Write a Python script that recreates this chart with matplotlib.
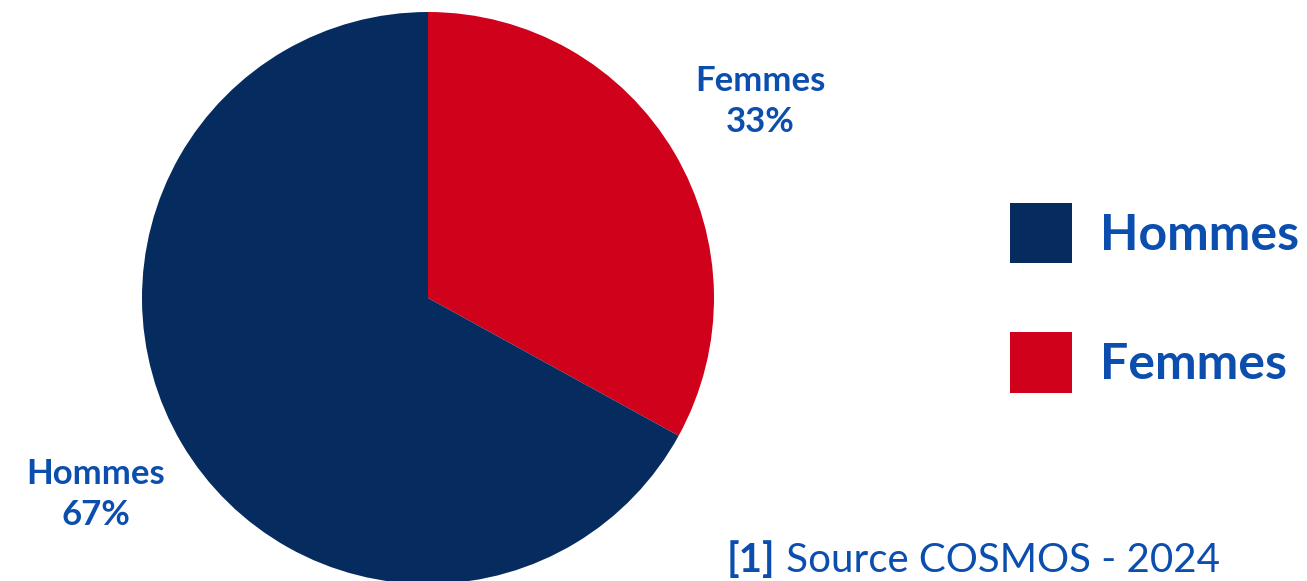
import matplotlib.pyplot as plt
from matplotlib.patches import Patch

labels = ['Femmes', 'Hommes']
shares = [33, 67]
colors = ['#D0021B', '#062C5F']
legend_order = ['Hommes', 'Femmes']

txt_color = '#0B4EAE'
plt.rcParams['font.family'] = ['Lato', 'DejaVu Sans']

fig = plt.figure(figsize=(13.07, 5.81), dpi=100)
W, H = 1307, 581
# pie axes placed in pixels: center (428, 298), radius 286
ax = fig.add_axes([142 / W, (H - 584) / H, 572 / W, 572 / H])

pie_labels = [f'{l}\n{v}%' for l, v in zip(labels, shares)]
wedges, texts = ax.pie(shares, colors=colors, startangle=90, counterclock=False,
                       radius=1, labels=pie_labels, labeldistance=1.35,
                       textprops=dict(color=txt_color, fontsize=25, fontweight='bold',
                                      ha='center', va='center', linespacing=1.38))
for t in texts:
    t.set_horizontalalignment('center')
    t.set_clip_on(False)
ax.set_xlim(-1, 1)
ax.set_ylim(-1, 1)
ax.set_aspect('equal')
ax.axis('off')

handles = [Patch(facecolor=colors[labels.index(n)]) for n in legend_order]
leg = fig.legend(handles, legend_order, loc='upper left',
                 bbox_to_anchor=(1010 / W, (H - 203) / H),
                 frameon=False, fontsize=36, handlelength=1.24, handleheight=1.48,
                 handletextpad=0.56, labelspacing=1.38, borderpad=0, borderaxespad=0)
for t in leg.get_texts():
    t.set_color(txt_color)
    t.set_fontweight('bold')

t1 = fig.text(727 / W, 9 / H, '[1]', fontsize=29, fontweight='bold',
              color=txt_color, ha='left', va='baseline')
ax.annotate(' Source COSMOS - 2024', xy=(1, 0), xycoords=t1, fontsize=29,
            color=txt_color, ha='left', va='bottom')

fig.savefig('out.png', dpi=100)
